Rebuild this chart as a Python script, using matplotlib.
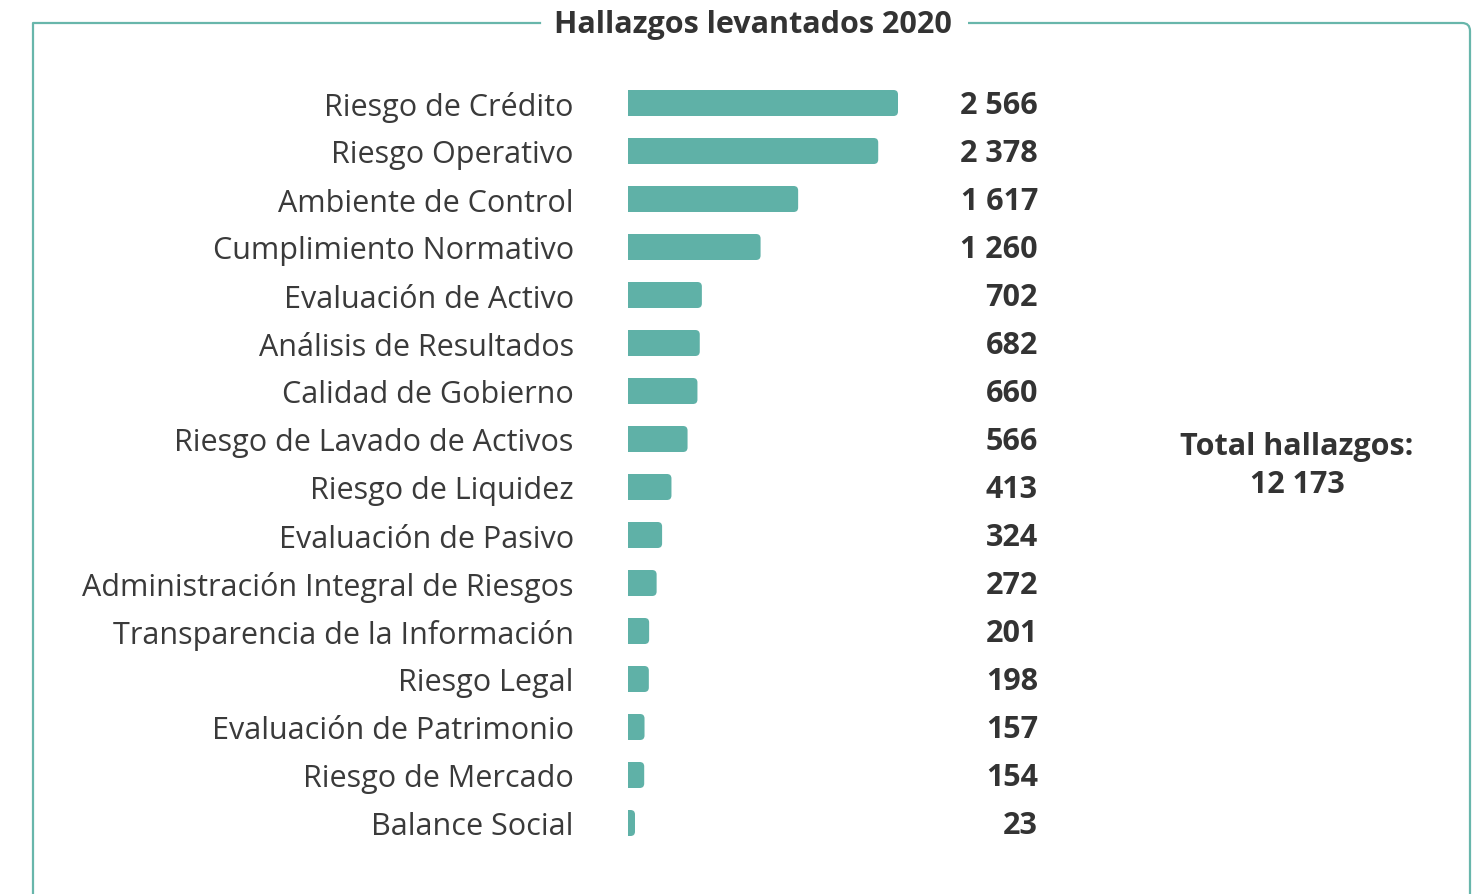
import matplotlib.pyplot as plt
import matplotlib.patches as patches
from matplotlib.path import Path

plt.rcParams['font.family'] = ['Open Sans', 'DejaVu Sans']

categories = ['Riesgo de Crédito', 'Riesgo Operativo', 'Ambiente de Control',
              'Cumplimiento Normativo', 'Evaluación de Activo', 'Análisis de Resultados',
              'Calidad de Gobierno', 'Riesgo de Lavado de Activos', 'Riesgo de Liquidez',
              'Evaluación de Pasivo', 'Administración Integral de Riesgos',
              'Transparencia de la Información', 'Riesgo Legal',
              'Evaluación de Patrimonio', 'Riesgo de Mercado', 'Balance Social']
values = [2566, 2378, 1617, 1260, 702, 682, 660, 566, 413, 324, 272, 201, 198, 157, 154, 23]
value_labels = ['2 566', '2 378', '1 617', '1 260', '702', '682', '660', '566',
                '413', '324', '272', '201', '198', '157', '154', '23']
title = 'Hallazgos levantados 2020'
total_label = 'Total hallazgos:\n12 173'

W, H = 1478, 895
bar_color = '#5fb1a7'
frame_color = '#68b6ab'
text_color = '#333333'

fig = plt.figure(figsize=(W / 100, H / 100), dpi=100)
fig.patch.set_facecolor('white')

# bar axes: x from 628px to 1038px, rows 79px..847px
left_px, right_px = 628, 1038
top_px, bot_px = 80, 848
ax = fig.add_axes([left_px / W, 1 - bot_px / H, (right_px - left_px) / W, (bot_px - top_px) / H])
px_per_unit = 270 / 2566
xmax = (right_px - left_px) / px_per_unit
ax.set_xlim(0, xmax)
ax.set_ylim(len(values) - 0.5, -0.5)
for s in ax.spines.values():
    s.set_visible(False)
ax.set_xticks([])

bar_h = 26 / 48
r_px = 4.5
rx = r_px / px_per_unit
ry = r_px / 48
min_w = 7 / px_per_unit
for i, v in enumerate(values):
    w = max(v, min_w)
    y0, y1 = i - bar_h / 2, i + bar_h / 2
    verts = [(0, y0), (w - rx, y0), (w, y0), (w, y0 + ry), (w, y1 - ry), (w, y1),
             (w - rx, y1), (0, y1), (0, y0)]
    codes = [Path.MOVETO, Path.LINETO, Path.CURVE3, Path.CURVE3, Path.LINETO,
             Path.CURVE3, Path.CURVE3, Path.LINETO, Path.CLOSEPOLY]
    ax.add_patch(patches.PathPatch(Path(verts, codes), facecolor=bar_color, edgecolor='none'))
    ax.text(1.0, i + 0.05, value_labels[i], transform=ax.get_yaxis_transform(),
            ha='right', va='center', fontsize=22, fontweight='bold', color=text_color)

ax.set_yticks(range(len(categories)))
ax.set_yticklabels(categories, fontsize=22, color='#3a3a3a')
ax.tick_params(axis='y', length=0, pad=39)

# frame with title gap
fx0, fy0, fx1 = 33 / W, 1 - 24 / H, 1470 / W
rcx = 8 / W
rcy = 8 / H
fig.add_artist(plt.Line2D([fx0, fx0, 540 / W], [0, fy0, fy0], color=frame_color, lw=1.6))
corner = Path([(968 / W, fy0), (fx1 - rcx, fy0), (fx1, fy0), (fx1, fy0 - rcy), (fx1, 0)],
              [Path.MOVETO, Path.LINETO, Path.CURVE3, Path.CURVE3, Path.LINETO])
fig.add_artist(patches.PathPatch(corner, facecolor='none', edgecolor=frame_color, lw=1.6,
                                 transform=fig.transFigure))
fig.text(753 / W, 1 - 25 / H, title, ha='center', va='center', fontsize=22,
         fontweight='bold', color=text_color)

fig.text(1297 / W, 1 - 466 / H, total_label, ha='center', va='center', fontsize=22,
         fontweight='bold', color=text_color, linespacing=1.35)

fig.savefig('out.png', dpi=100, facecolor='white')
